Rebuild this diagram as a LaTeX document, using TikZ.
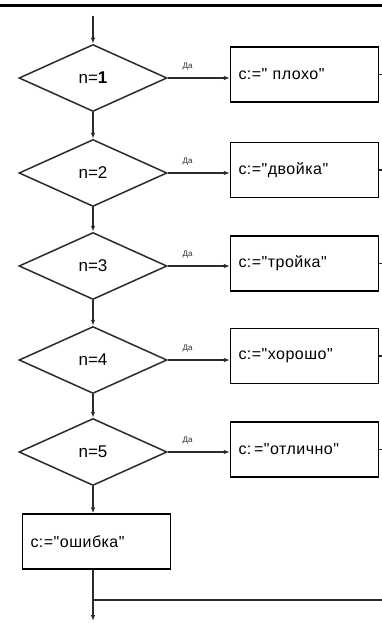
\documentclass[tikz,border=0pt]{standalone}
\usepackage{fontspec}
\setmainfont{Liberation Sans}[Ligatures=TeXOff]
\usetikzlibrary{shapes.geometric,arrows.meta}
\definecolor{ink}{HTML}{2B2B2B}
\tikzset{
  flow/.style={draw=ink, line width=1.5pt},
  cond/.style={diamond, draw=ink, line width=1.5pt, minimum width=148pt,
    minimum height=67pt, inner sep=0pt, font=\fontsize{17}{19}\selectfont},
  assign/.style={rectangle, draw=black, line width=1.3pt, minimum height=55pt,
    text width=132pt, inner xsep=8pt, inner ysep=0pt, align=left,
    font=\fontsize{16}{18}\selectfont\addfontfeature{LetterSpace=3}},
  arr/.style={flow, -{Latex[length=6pt,width=4.5pt]}},
  yes/.style={font=\fontsize{8}{9}\selectfont, inner sep=0pt, text=ink},
}
\begin{document}
\begin{tikzpicture}[x=1pt,y=-1pt]
\useasboundingbox (0,0) rectangle (382,623);
\fill[white] (0,0) rectangle (382,623);
% top rule
\draw[line width=3pt, black] (0,5.5) -- (382,5.5);

% conditions
\node[cond] (d1) at (93,78)  {n=\textbf{1}};
\node[cond] (d2) at (93,173) {n=2};
\node[cond] (d3) at (93,266) {n=3};
\node[cond] (d4) at (93,360) {n=4};
\node[cond] (d5) at (93,452) {n=5};

% assignments
\node[assign] (b1) at (304.5,74.5) {c:=" плохо"};
\node[assign] (b2) at (304.5,170)  {c:="двойка"};
\node[assign] (b3) at (304.5,263.5){c:="тройка"};
\node[assign] (b4) at (304.5,356)  {c:="хорошо"};
\node[assign] (b5) at (304.5,449.5){c:\,="отлично"};
\node[assign] (err) at (96.5,541.5) {c:="ошибка"};

% free ends
\coordinate (start) at (93,16);
\coordinate (edge) at (382,0);
\coordinate (join) at (93,600);
\coordinate (joinR) at (382,600);
\coordinate (finish) at (93,621);

% main vertical chain
\draw[arr] (start) -- (d1.north);
\draw[arr] (d1.south) -- (d2.north);
\draw[arr] (d2.south) -- (d3.north);
\draw[arr] (d3.south) -- (d4.north);
\draw[arr] (d4.south) -- (d5.north);
\draw[arr] (d5.south) -- (d5.south |- err.north);
\draw[arr] (err.south -| d5.south) -- (finish);
\draw[flow] (join) -- (joinR);

% "yes" branches
\foreach \i in {1,...,5}{
  \draw[arr] (d\i.east) -- (d\i.east -| b\i.west)
    node[yes, pos=0.32, above=7pt] {Да};
  \draw[flow] (b\i.east) -- (b\i.east -| edge);
}
\end{tikzpicture}
\end{document}
